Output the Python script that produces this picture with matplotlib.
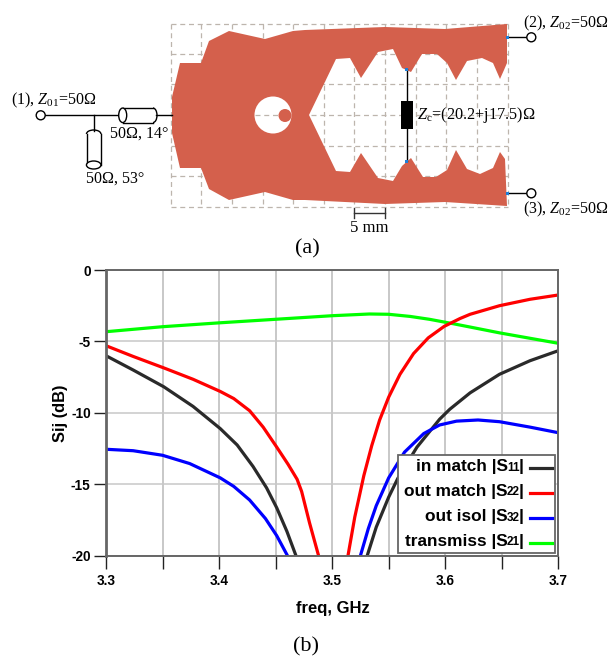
import matplotlib
matplotlib.use('Agg')
from matplotlib import pyplot as plt
from matplotlib.patches import Circle, Ellipse, Polygon, Rectangle, Arc
import numpy as np

# curves: freq in GHz, level in dB
s11_left_f = [3.30, 3.324, 3.351, 3.377, 3.401, 3.416, 3.430, 3.442, 3.451, 3.460, 3.468]
s11_left_db = [-6.0, -7.0, -8.17, -9.55, -11.1, -12.25, -13.75, -15.25, -16.65, -18.3, -20.0]
s11_right_f = [3.531, 3.539, 3.55, 3.558, 3.575, 3.595, 3.604, 3.622, 3.648, 3.675, 3.70]
s11_right_db = [-20.0, -18.0, -15.9, -14.6, -12.4, -10.45, -9.75, -8.6, -7.3, -6.35, -5.65]

s22_left_f = [3.30, 3.324, 3.351, 3.377, 3.401, 3.413, 3.427, 3.439, 3.451, 3.461, 3.469, 3.473, 3.480, 3.488]
s22_left_db = [-5.3, -6.05, -6.85, -7.65, -8.5, -9.0, -9.85, -11.0, -12.4, -13.6, -14.65, -15.5, -17.7, -20.0]
s22_right_f = [3.514, 3.52, 3.528, 3.535, 3.542, 3.55, 3.56, 3.572, 3.585, 3.599, 3.613, 3.622, 3.648, 3.675, 3.70]
s22_right_db = [-20.0, -17.3, -14.4, -12.3, -10.5, -8.9, -7.3, -5.85, -4.75, -3.95, -3.4, -3.1, -2.5, -2.05, -1.75]

s32_left_f = [3.30, 3.324, 3.35, 3.374, 3.401, 3.413, 3.427, 3.441, 3.451, 3.4605]
s32_left_db = [-12.55, -12.65, -12.97, -13.55, -14.55, -15.15, -16.1, -17.4, -18.6, -20.0]
s32_right_f = [3.525, 3.532, 3.539, 3.55, 3.564, 3.581, 3.595, 3.61, 3.629, 3.648, 3.675, 3.70]
s32_right_db = [-20.0, -18.1, -16.5, -14.55, -12.75, -11.45, -10.85, -10.58, -10.5, -10.62, -11.0, -11.39]

s21_f = [3.30, 3.35, 3.40, 3.45, 3.50, 3.533, 3.55, 3.569, 3.586, 3.607, 3.625, 3.648, 3.675, 3.70]
s21_db = [-4.32, -3.97, -3.7, -3.45, -3.2, -3.08, -3.1, -3.25, -3.45, -3.76, -4.04, -4.4, -4.78, -5.13]

x_major = [3.3, 3.4, 3.5, 3.6, 3.7]
x_minor = [3.35, 3.45, 3.55, 3.65]
x_labels = ['3.3', '3.4', '3.5', '3.6', '3.7']
y_major = [-20, -15, -10, -5, 0]
y_labels = ['-20', '-15', '-10', '-5', '0']

legend_names = ['in match |S', 'out match |S', 'out isol |S', 'transmiss |S']
legend_ports = ['11', '22', '32', '21']
legend_colors = ['#2a2a2a', '#ff0000', '#0000ff', '#00ff00']

# outline of the layout in panel (a), image pixels
layout_x = [172, 172, 180, 201, 209, 229, 265, 293, 305, 385, 445, 507, 507, 504, 500, 493, 482, 467,
            456, 447, 437, 422, 411, 402, 393, 378, 361, 350, 336, 309,
            336, 350, 361, 378, 393, 402, 411, 423, 436, 447, 456, 467, 480, 493, 500, 505,
            507, 445, 385, 305, 293, 265, 229, 209, 201, 180, 172]
layout_y = [115, 97, 63, 63, 41, 31, 39, 31, 30, 27, 29, 24, 63, 70, 79, 63, 58, 61,
            80, 63, 54, 54, 72, 68, 49, 52, 78, 58, 59, 115,
            171, 172, 153, 178, 181, 166, 158, 177, 177, 170, 150, 169, 174, 168, 152, 159,
            206, 202, 204, 200, 200, 192, 200, 189, 168, 168, 133]
grid_xs = [171, 201, 232, 263, 293, 324, 354, 385, 416, 446, 477, 508]
grid_ys = [24, 54, 84, 115, 146, 176, 207]

plt.rcParams['font.family'] = ['Liberation Sans', 'DejaVu Sans']
plt.rcParams['mathtext.fontset'] = 'custom'
plt.rcParams['mathtext.rm'] = 'Liberation Serif'
plt.rcParams['mathtext.it'] = 'Liberation Serif:italic'

W, H = 610, 656
fig = plt.figure(figsize=(W / 100, H / 100), dpi=100)

# panel (b)
ax = fig.add_axes([106 / W, 1 - 555.7 / H, (558.3 - 106) / W, (555.7 - 270) / H])
ax.set_xticks(x_major)
ax.set_xticks(x_minor, minor=True)
ax.set_xticklabels(x_labels, fontsize=9.8, fontweight='bold')
ax.set_yticks(y_major)
ax.set_yticklabels(y_labels, fontsize=9.8, fontweight='bold')
ax.set_xlim(3.3, 3.7)
ax.set_ylim(-20, 0)
ax.grid(True, which='both', axis='x', color='#c8c8c8', lw=1.4)
ax.grid(True, which='major', axis='y', color='#c8c8c8', lw=1.1)
ax.set_axisbelow(True)
ax.tick_params(axis='both', which='both', length=9, width=1, color='#222222')
ax.tick_params(axis='x', pad=4)
ax.tick_params(axis='y', pad=2)
for name, sp in ax.spines.items():
    sp.set_color('#666666')
    sp.set_linewidth(1.4)
ax.spines['left'].set_linewidth(2)

curves = [(s21_f, s21_db, '#00ff00'),
          (s11_left_f, s11_left_db, '#2a2a2a'),
          (s11_right_f, s11_right_db, '#2a2a2a'),
          (s32_left_f, s32_left_db, '#0000ff'),
          (s32_right_f, s32_right_db, '#0000ff'),
          (s22_left_f, s22_left_db, '#ff0000'),
          (s22_right_f, s22_right_db, '#ff0000')]
for fs, dbs, col in curves:
    ax.plot(fs, dbs, color=col, lw=2.3, solid_joinstyle='round')

# overlay in image pixels for panel (a), the legend and loose labels
ov = fig.add_axes([0, 0, 1, 1])
ov.set_xlim(0, W)
ov.set_ylim(H, 0)
ov.axis('off')
ov.patch.set_alpha(0)

ov.text(61, 413, 'Sij (dB)', rotation=90, ha='center', va='center', fontsize=11.8, fontweight='bold')
ov.text(332.5, 609, 'freq, GHz', ha='center', va='center', fontsize=12, fontweight='bold')

# legend box
ov.add_patch(Rectangle((398, 455), 157, 97.5, fc='white', ec='#666666', lw=1.3, zorder=5))
legend_ys = [467, 491.5, 517, 541.5]
for name, port, col, y in zip(legend_names, legend_ports, legend_colors, legend_ys):
    ov.text(523.5, y, '|', ha='right', va='center', fontsize=12.4, fontweight='bold', zorder=6)
    ov.text(519.5, y + 0.8, port, ha='right', va='center', fontsize=8.5, fontweight='bold', zorder=6)
    ov.text(507.5, y, name, ha='right', va='center', fontsize=12.4, fontweight='bold', zorder=6)
    ov.plot([530, 552], [y + 1, y + 1], color=col, lw=2.3, zorder=6)

# panel (a), dashed grid under the layout
grid_col = '#bdb5ad'
for x in grid_xs:
    ov.plot([x, x], [24, 207], color=grid_col, lw=0.9, ls=(0, (4, 3)), zorder=1)
for y in grid_ys:
    ov.plot([171, 508], [y, y], color=grid_col, lw=0.9, ls=(0, (4, 3)), zorder=1)
ov.add_patch(Polygon(np.column_stack([layout_x, layout_y]), closed=True, fc='#d4604c', ec='none', zorder=2))
ov.add_patch(Circle((273, 115), 18.5, fc='white', ec='none', zorder=3))
ov.plot([255, 285], [115, 115], color=grid_col, lw=0.9, ls=(0, (4, 3)), zorder=3)
ov.add_patch(Circle((285, 115.5), 6.5, fc='#d4604c', ec='none', zorder=4))

# feed network
ov.plot([45, 119], [115.3, 115.3], color='k', lw=1, zorder=3)
ov.plot([156, 172], [115.3, 115.3], color='k', lw=1, zorder=3)
ov.plot([93.7, 93.7], [115.3, 131], color='k', lw=1, zorder=3)
ov.add_patch(Circle((40.7, 115.3), 4.5, fc='white', ec='k', lw=1, zorder=4))
ov.plot([122.7, 153], [108, 108], color='k', lw=1, zorder=3)
ov.plot([122.7, 153], [122.5, 122.5], color='k', lw=1, zorder=3)
ov.add_patch(Ellipse((122.7, 115.3), 8, 14.5, fc='white', ec='k', lw=1, zorder=4))
ov.add_patch(Arc((153, 115.3), 8, 14.5, theta1=-90, theta2=90, ec='k', lw=1, zorder=4))
ov.plot([86.5, 86.5], [134, 165], color='k', lw=1, zorder=3)
ov.plot([101, 101], [134, 165], color='k', lw=1, zorder=3)
ov.add_patch(Arc((93.7, 134), 14.5, 8, theta1=180, theta2=360, ec='k', lw=1, zorder=4))
ov.add_patch(Ellipse((93.7, 165), 14.5, 8, fc='white', ec='k', lw=1, zorder=4))

# output ports and the load
for y in [37.3, 193.3]:
    ov.plot([507, 527], [y, y], color='k', lw=1, zorder=3)
    ov.add_patch(Circle((531.3, y), 4.5, fc='white', ec='k', lw=1, zorder=4))
    ov.add_patch(Rectangle((505.5, y - 1.5), 3, 3, fc='#1e7fd8', ec='none', zorder=5))
ov.plot([406.5, 406.5], [69, 161], color='k', lw=1, zorder=3)
ov.add_patch(Rectangle((401, 101), 12, 27.7, fc='k', ec='none', zorder=4))
for y in [69, 161]:
    ov.add_patch(Rectangle((405, y - 1.5), 3, 3, fc='#1e7fd8', ec='none', zorder=5))

# scale bar
ov.plot([354, 385], [213, 213], color='#333333', lw=1, zorder=3)
ov.plot([354, 354], [208, 218], color='#333333', lw=1, zorder=3)
ov.plot([385, 385], [208, 218], color='#333333', lw=1, zorder=3)

serif = ['Liberation Serif', 'DejaVu Serif']
ov.text(11, 100, '(1), $Z_{\\mathrm{01}}$=50Ω', family=serif, fontsize=11.5, va='center', zorder=6)
ov.text(110, 134, '50Ω, 14°', family=serif, fontsize=11.5, va='center', zorder=6)
ov.text(86, 179, '50Ω, 53°', family=serif, fontsize=11.5, va='center', zorder=6)
ov.text(523, 23, '(2), $Z_{\\mathrm{02}}$=50Ω', family=serif, fontsize=11.5, va='center', zorder=6)
ov.text(523, 209, '(3), $Z_{\\mathrm{02}}$=50Ω', family=serif, fontsize=11.5, va='center', zorder=6)
ov.text(417, 115, '$Z_{\\mathrm{c}}$=(20.2+j17.5)Ω', family=serif, fontsize=11.7, va='center', zorder=6)
ov.text(369.5, 228, '5 mm', family=serif, fontsize=12, ha='center', va='center', zorder=6)
ov.text(307, 249, '(a)', family=serif, fontsize=16, ha='center', va='center', zorder=6)
ov.text(306, 647, '(b)', family=serif, fontsize=16, ha='center', va='center', zorder=6)

plt.savefig('out.png', dpi=100)
